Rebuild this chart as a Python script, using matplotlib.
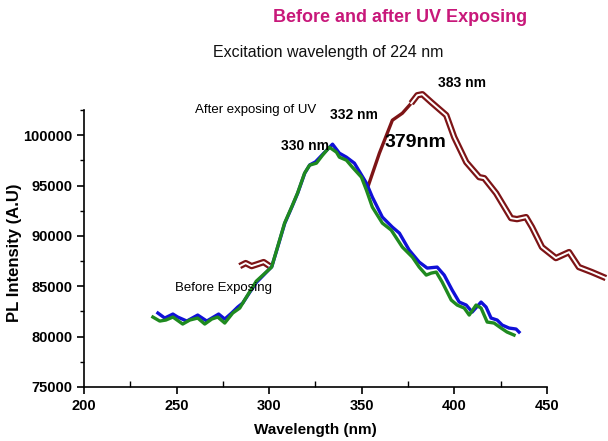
import matplotlib.pyplot as plt
from matplotlib.ticker import MultipleLocator

# PL spectra, excitation at 224 nm
before_nm = [237.2, 240.9, 244.2, 248.0, 253.3, 257.1, 261.4, 265.2, 269.0, 272.2, 276.0,
             280.3, 284.1, 286.7, 293.0, 301.3, 304.5, 308.3, 312.1, 315.3, 319.1, 321.8,
             325.5, 328.8, 332.5, 336.3, 337.9, 341.7, 344.9, 349.8, 352.5, 355.7, 361.1,
             365.9, 371.9, 377.3, 381.0, 384.8, 387.5, 390.2, 393.4, 398.3, 401.5, 405.3,
             408.0, 411.7, 414.4, 417.7, 421.4, 425.2, 428.4, 432.2]
before_pl = [81944, 81547, 81646, 81944, 81250, 81646, 81845, 81250, 81746, 81944, 81349,
             82341, 82837, 83630, 85500, 86904, 88888, 91269, 92856, 94245, 96229, 97022,
             97221, 98014, 98808, 98312, 97816, 97518, 96824, 95832, 94542, 92856, 91269,
             90574, 88888, 87896, 86904, 86110, 86309, 86408, 85416, 83630, 83134, 82837,
             82142, 83134, 82837, 81448, 81349, 80853, 80456, 80158]

after_nm = [239.9, 243.6, 248.0, 250.6, 255.5, 261.4, 266.3, 272.7, 276.0, 279.7, 283.0,
            285.7, 289.5, 293.2, 301.4, 304.6, 308.4, 312.2, 315.4, 319.2, 321.9, 325.0,
            328.9, 334.2, 337.9, 341.7, 346.0, 352.5, 355.7, 361.1, 366.5, 370.3, 375.6,
            381.0, 385.3, 390.7, 394.5, 398.8, 402.6, 406.4, 409.6, 414.4, 417.1, 419.8,
            423.1, 425.8, 429.5, 433.3, 434.9]
after_pl = [82341, 81845, 82242, 81944, 81547, 82142, 81547, 82242, 81746, 82341, 82936,
            83333, 84400, 85400, 86950, 88900, 91250, 92850, 94250, 96230, 97050, 97350,
            98100, 99106, 98213, 97816, 97221, 95237, 93848, 91864, 90872, 90277, 88590,
            87400, 86805, 86904, 86110, 84622, 83432, 83134, 82440, 83432, 82936, 81845,
            81646, 81150, 80853, 80754, 80456]

# shifted emission band after UV, short piece near 290 nm and main band
shift_low_nm = [284.1, 287.3, 290.5, 293.8, 297.0, 300.2]
shift_low_pl = [87003, 87301, 87003, 87202, 87400, 87003]
shift_rise_nm = [353.6, 359.5, 366.5, 371.9, 376.7]
shift_rise_pl = [95038, 98213, 101486, 102181, 103173]
shift_nm = [376.7, 380.0, 382.7, 387.5, 395.6, 399.9, 406.4, 413.4, 416.1, 422.5, 430.6,
            433.8, 438.7, 441.9, 447.3, 454.8, 461.9, 467.2, 474.2, 481.8]
shift_pl = [103173, 103966, 104066, 103272, 101982, 99800, 97320, 95832, 95733, 94245,
            91765, 91666, 91864, 90872, 88888, 87797, 88392, 86904, 86408, 85813]

plt.rcParams['font.family'] = ['Liberation Sans', 'DejaVu Sans']

W, H = 608, 441
fig = plt.figure(figsize=(W / 100, H / 100), dpi=100)
ax = fig.add_axes([84 / W, 1 - 387 / H, (547 - 84) / W, (387 - 110) / H])

dark_red = '#7d1416'
ax.plot(shift_low_nm, shift_low_pl, color=dark_red, lw=4.6, clip_on=False, solid_capstyle='butt')
ax.plot(shift_low_nm, shift_low_pl, color='white', lw=1.4, clip_on=False)
ax.plot(shift_rise_nm, shift_rise_pl, color=dark_red, lw=2.4, clip_on=False)
ax.plot(shift_nm, shift_pl, color=dark_red, lw=4.6, clip_on=False, solid_capstyle='butt')
ax.plot(shift_nm, shift_pl, color='white', lw=1.4, clip_on=False)
ax.plot(after_nm, after_pl, color='#1010d8', lw=2.4)
ax.plot(before_nm, before_pl, color='#1f8a1f', lw=2.4)

ax.set_xlim(200, 450)
ax.set_ylim(75000, 102500)
ax.xaxis.set_major_locator(MultipleLocator(50))
ax.xaxis.set_minor_locator(MultipleLocator(25))
ax.yaxis.set_major_locator(MultipleLocator(5000))
ax.yaxis.set_minor_locator(MultipleLocator(2500))
ax.spines['top'].set_visible(False)
ax.spines['right'].set_visible(False)
ax.tick_params(axis='x', which='major', direction='out', length=5, width=1.2)
ax.tick_params(axis='x', which='minor', direction='in', length=4, width=1.0)
ax.tick_params(axis='y', which='major', direction='out', length=5, width=1.2)
ax.tick_params(axis='y', which='minor', direction='out', length=3, width=1.0)
for lab in ax.get_xticklabels() + ax.get_yticklabels():
    lab.set_fontweight('bold')
    lab.set_fontsize(10.5)
for s in ('left', 'bottom'):
    ax.spines[s].set_linewidth(1.2)

fig.text(315 / W, 1 - 430 / H, 'Wavelength (nm)', ha='center', va='center',
         fontsize=11, fontweight='bold')
fig.text(15 / W, 1 - 253 / H, 'PL Intensity (A.U)', ha='center', va='center',
         rotation=90, fontsize=12, fontweight='bold')
fig.text(400 / W, 1 - 18 / H, 'Before and after UV Exposing', ha='center', va='center',
         fontsize=13, fontweight='bold', color='#c8187a')
fig.text(328 / W, 1 - 53 / H, 'Excitation wavelength of 224 nm', ha='center', va='center',
         fontsize=11.5, color='#111111')

ax.text(404.2, 105157, '383 nm', ha='center', va='center', fontsize=10, fontweight='bold')
ax.text(292.7, 102478, 'After exposing of UV', ha='center', va='center', fontsize=9.5)
ax.text(346.0, 101982, '332 nm', ha='center', va='center', fontsize=10, fontweight='bold')
ax.text(378.9, 99305, '379nm', ha='center', va='center', fontsize=14, fontweight='bold')
ax.text(319.6, 98908, '330 nm', ha='center', va='center', fontsize=10, fontweight='bold')
ax.text(275.4, 84821, 'Before Exposing', ha='center', va='center', fontsize=9.5)

fig.savefig('out.png', dpi=100)
